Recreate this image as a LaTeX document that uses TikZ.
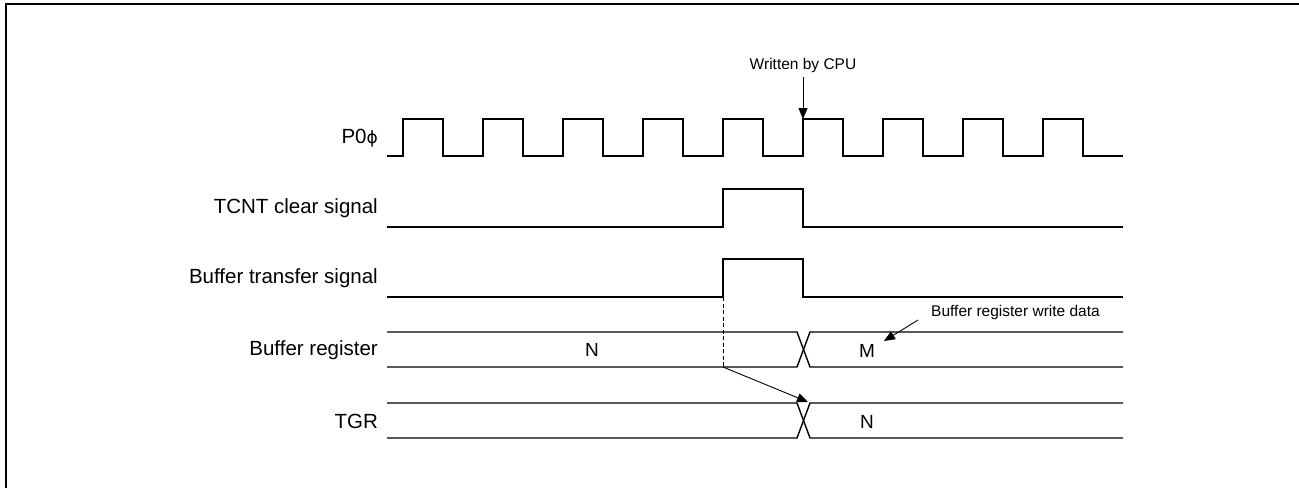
\documentclass[tikz,border=0pt]{standalone}
\usepackage{fontspec}
\setmainfont{Liberation Sans}
\newfontfamily\symf{DejaVu Sans}
\usetikzlibrary{arrows.meta}
\begin{document}
\begin{tikzpicture}[x=1pt,y=-1pt,
  sig/.style={line width=1.4pt},
  frame/.style={line width=2pt},
  lbl/.style={anchor=east,inner sep=0pt,font=\fontsize{20.5}{23}\selectfont},
  val/.style={inner sep=0pt,font=\fontsize{19}{21}\selectfont},
  note/.style={inner sep=0pt,font=\fontsize{15.5}{17}\selectfont},
  arr/.style={line width=0.9pt,-{Triangle[length=11pt,width=9pt]}},
  dash line/.style={line width=0.8pt,dash pattern=on 4pt off 2.5pt}]
\useasboundingbox (0,0) rectangle (1299,488);
\draw[frame] (6,488) -- (6,4) -- (1299,4);

% labels
\node[lbl] (lclk) at (378,138) {P0{\symf\fontsize{17}{19}\selectfont ϕ}};
\node[lbl] (ltcnt) at (378,208) {TCNT clear signal};
\node[lbl] (lbts) at (378,278) {Buffer transfer signal};
\node[lbl] (lbr) at (378,350) {Buffer register};
\node[lbl] (ltgr) at (378,421) {TGR};

% clock
\draw[sig] (387,156) \foreach \i in {0,...,8} { -- ({403+80*\i},156) -- ({403+80*\i},119) -- ({443+80*\i},119) -- ({443+80*\i},156) } -- (1123,156);

% TCNT clear signal
\draw[sig] (387,227) -- (723,227) -- (723,189) -- (803,189) -- (803,227) -- (1123,227);
% Buffer transfer signal
\draw[sig] (387,297) -- (723,297) -- (723,259) -- (803,259) -- (803,297) -- (1123,297);

% Buffer register bus
\draw[sig] (387,332) -- (797,332) -- (810,367) -- (1123,367);
\draw[sig] (387,367) -- (797,367) -- (810,332) -- (1123,332);
% TGR bus
\draw[sig] (387,403) -- (797,403) -- (810,438) -- (1123,438);
\draw[sig] (387,438) -- (797,438) -- (810,403) -- (1123,403);

\node[val] (vn1) at (592,350) {N};
\node[val] (vm) at (867,351) {M};
\node[val] (vn2) at (867,422) {N};

% dashed marker and transfer arrow
\coordinate (bts) at (723,297);
\coordinate (dstart) at (723,367);
\coordinate (dend) at (808,402);
\draw[dash line] (bts) -- (dstart);
\draw[arr] (dstart) -- (dend);

% Written by CPU
\node[note] (wcpu) at (803,65) {Written by CPU};
\coordinate (wtip) at (803,119);
\draw[arr] (803,77) -- (wtip);

% Buffer register write data
\node[note,anchor=west] (brwd) at (931,312) {Buffer register write data};
\coordinate (brtip) at (884,341);
\draw[arr] (918,320) -- (brtip);
\end{tikzpicture}
\end{document}
